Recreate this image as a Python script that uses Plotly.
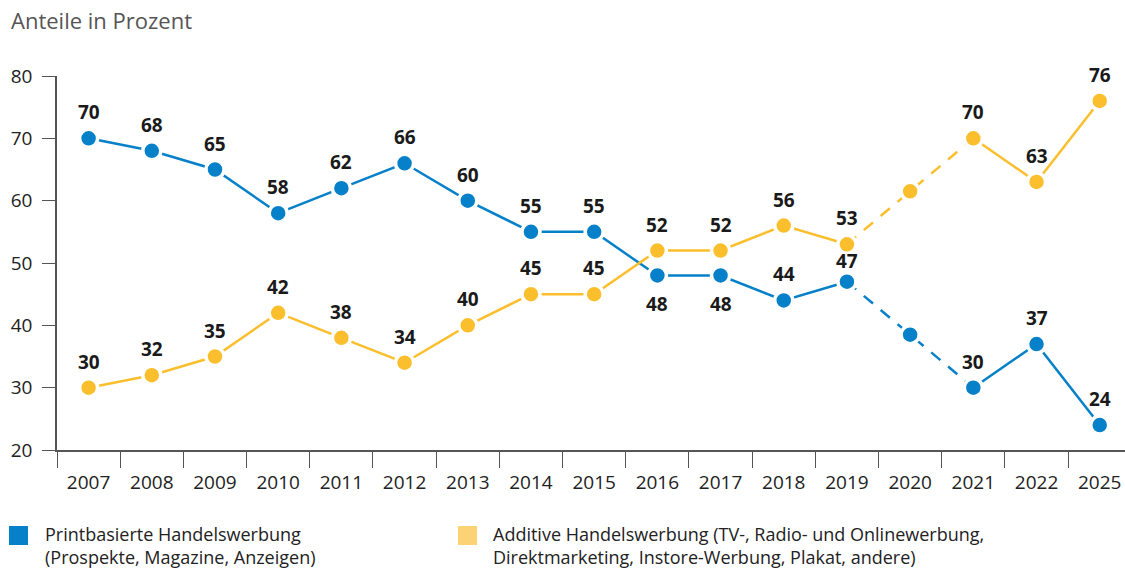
import plotly.graph_objects as go

years = ["2007", "2008", "2009", "2010", "2011", "2012", "2013", "2014", "2015",
         "2016", "2017", "2018", "2019", "2020", "2021", "2022", "2025"]
print_vals = [70, 68, 65, 58, 62, 66, 60, 55, 55, 48, 48, 44, 47, 38.5, 30, 37, 24]
additive_vals = [30, 32, 35, 42, 38, 34, 40, 45, 45, 52, 52, 56, 53, 61.5, 70, 63, 76]
# which points carry a value label (2020 is unlabeled)
labeled = [True] * 13 + [False] + [True] * 3
# label above (+1) or below (-1) the point
print_label_side = [1] * 9 + [-1, -1] + [1] * 6
additive_label_side = [1] * 17

legend_lines = [
    ["Printbasierte Handelswerbung", "(Prospekte, Magazine, Anzeigen)"],
    ["Additive Handelswerbung (TV-, Radio- und Onlinewerbung,",
     "Direktmarketing, Instore-Werbung, Plakat, andere)"],
]

BLUE = "#0681c9"
YELLOW = "#fbbf2d"
BLUE_LEG = "#0681c9"
YELLOW_LEG = "#fdd274"
FONT = "Open Sans"

dashed_idx = [12, 13, 14]  # 2019-2020-2021


def solid_parts(vals):
    a = [v if i <= 12 else None for i, v in enumerate(vals)]
    b = [v if i >= 14 else None for i, v in enumerate(vals)]
    return a, b


fig = go.Figure()

for vals, col in [(print_vals, BLUE), (additive_vals, YELLOW)]:
    a, b = solid_parts(vals)
    for part in (a, b):
        fig.add_trace(go.Scatter(x=years, y=part, mode="lines",
                                 line=dict(color=col, width=2.5),
                                 connectgaps=False, hoverinfo="skip", showlegend=False))
    fig.add_trace(go.Scatter(x=[years[i] for i in dashed_idx], y=[vals[i] for i in dashed_idx],
                             mode="lines", line=dict(color=col, width=2.5, dash="12px,10px"),
                             hoverinfo="skip", showlegend=False))

for vals, col in [(print_vals, BLUE), (additive_vals, YELLOW)]:
    fig.add_trace(go.Scatter(x=years, y=vals, mode="markers",
                             marker=dict(color=col, size=18, line=dict(color="white", width=3.5)),
                             showlegend=False))

annotations = []
for k, (vals, sides) in enumerate([(print_vals, print_label_side),
                                   (additive_vals, additive_label_side)]):
    for i, v in enumerate(vals):
        if not labeled[i]:
            continue
        shift = 26 if sides[i] > 0 else -29
        if k == 0 and i == 12:
            shift = 21  # tighter label for 2019 print value
        annotations.append(dict(x=i, y=v, xref="x", yref="y", text=f"<b>{v:g}</b>",
                                showarrow=False, yshift=shift,
                                font=dict(family=FONT, size=19, color="#1a1a1a")))

L, T, W, H = 57, 76, 1068, 374

annotations.append(dict(xref="paper", yref="paper", x=(9 - L) / W, y=(T + H - 20) / H,
                        text="Anteile in Prozent", showarrow=False, xanchor="left",
                        yanchor="middle",
                        font=dict(family=FONT, size=22, color="#555555")))

legend_pos = [(9, BLUE_LEG, 44), (458, YELLOW_LEG, 492)]
shapes = []
for (sx, col, tx), lines in zip(legend_pos, legend_lines):
    shapes.append(dict(type="rect", xref="paper", yref="paper",
                       x0=(sx - L) / W, x1=(sx + 19 - L) / W,
                       y0=(T + H - 545) / H, y1=(T + H - 526) / H,
                       fillcolor=col, line=dict(width=0)))
    annotations.append(dict(xref="paper", yref="paper", x=(tx - L) / W,
                            y=(T + H - 545) / H, borderpad=0,
                            text="<br>".join(lines), showarrow=False,
                            xanchor="left", yanchor="middle", align="left",
                            font=dict(family=FONT, size=18, color="#222222")))

fig.update_layout(
    width=1125, height=570,
    margin=dict(l=L, r=0, t=T, b=570 - T - H),
    plot_bgcolor="white", paper_bgcolor="white",
    font=dict(family=FONT, size=19, color="#222222"),
    showlegend=False,
    annotations=annotations, shapes=shapes,
    xaxis=dict(type="category", categoryorder="array", categoryarray=years,
               range=[-0.5, 16.4], showgrid=False, zeroline=False,
               showline=True, linecolor="#555555", linewidth=1.5,
               ticks="outside", tickson="boundaries", ticklen=16, tickwidth=1.2,
               tickcolor="#555555", ticklabelstandoff=14,
               tickfont=dict(size=19, color="#222222")),
    yaxis=dict(range=[20, 80], tickvals=[20, 30, 40, 50, 60, 70, 80],
               showgrid=False, zeroline=False, showline=True, linecolor="#555555",
               linewidth=1.5, ticks="outside", ticklen=13, tickwidth=1.2,
               tickcolor="#555555", ticklabelstandoff=6,
               tickfont=dict(size=19, color="#222222")),
)

fig.write_html("out.html")
